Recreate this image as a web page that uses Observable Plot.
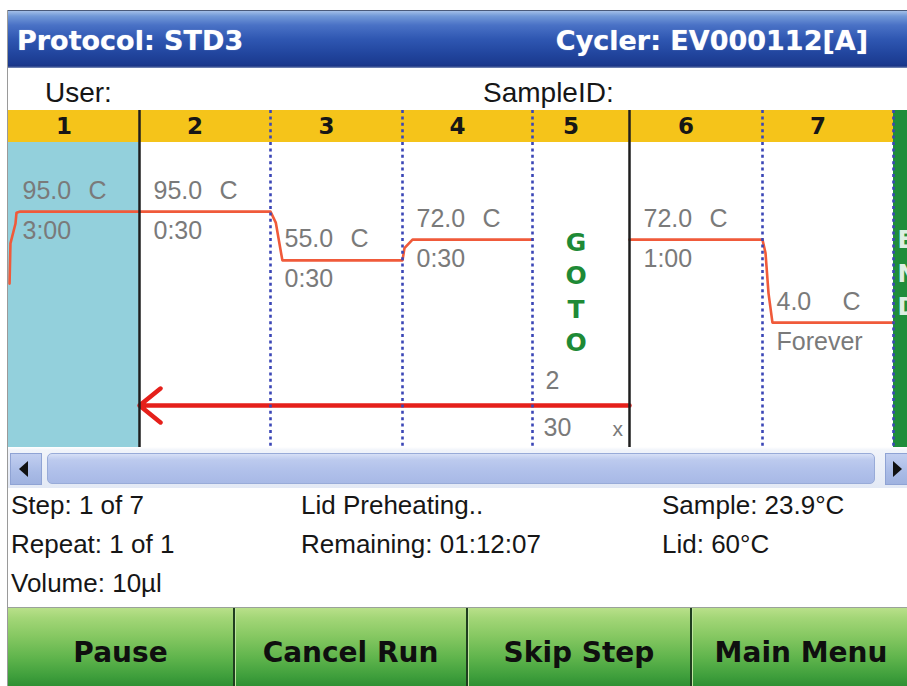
<!DOCTYPE html>
<html>
<head>
<meta charset="utf-8">
<script src="https://cdn.jsdelivr.net/npm/d3@7"></script>
<script src="https://cdn.jsdelivr.net/npm/@observablehq/plot@0.6"></script>
<style>
html, body { margin: 0; padding: 0; background: #fff; }
body { width: 907px; height: 686px; overflow: hidden; position: relative; font-family: "Liberation Sans", Arial, sans-serif; }
.box { position: absolute; box-sizing: border-box; }
.t { position: absolute; line-height: 0; white-space: pre; }
</style>
</head>
<body>
<div id="root"></div>
<script>
// ---------- data ----------
const titleLeft = "Protocol: STD3";
const titleRight = "Cycler: EV000112[A]";
const infoLabels = ["User:", "SampleID:"];
const steps = ["1", "2", "3", "4", "5", "6", "7"];
const stepTemp = [95.0, 95.0, 55.0, 72.0, null, 72.0, 4.0];
const stepHold = ["3:00", "0:30", "0:30", "0:30", null, "1:00", "Forever"];
const tempUnit = "C";
const currentStep = 1;
const gotoStep = 5, gotoTarget = 2, gotoCycles = 30;
const gotoWord = ["G", "O", "T", "O"];
const endWord = ["E", "N", "D"];
// block temperature trace: position along the steps (step units) and °C
const traceStep = [0.008, 0.015, 0.053, 0.061, 0.09, 2.0, 2.04, 2.09, 3.0, 3.015, 3.077, 4.0,
                   5.0, 6.0, 6.023, 6.046, 6.076, 7.0];
const traceTemp = [36, 69, 85, 94, 95, 95, 86, 55, 55, 65, 72, 72,
                   72, 72, 61, 28, 4, 4];
const traceSeg  = ["a","a","a","a","a","a","a","a","a","a","a","a",
                   "b","b","b","b","b","b"];
const statusCol1 = ["Step: 1 of 7", "Repeat: 1 of 1", "Volume: 10µl"];
const statusCol2 = ["Lid Preheating..", "Remaining: 01:12:07"];
const statusCol3 = ["Sample: 23.9°C", "Lid: 60°C"];
const buttons = ["Pause", "Cancel Run", "Skip Step", "Main Menu"];

// ---------- layout ----------
const colWidths = [131, 131, 132, 130, 97, 133, 131, 131];
const chartW = 899, chartH = 337, headerH = 32;
const yDomain = [0, 100], yRange = [217, 95];
const LS = '"Liberation Sans", Arial, sans-serif';
const DJ = '"DejaVu Sans", Verdana, sans-serif';

const root = document.getElementById("root");
function box(css) { const d = document.createElement("div"); d.className = "box"; d.style.cssText = css; root.appendChild(d); return d; }
function txt(s, x, base, size, opts = {}) {
  const d = document.createElement("div");
  d.className = "t";
  d.textContent = s;
  const fam = opts.family || LS;
  d.style.cssText = `font-family:${fam};font-size:${size}px;font-weight:${opts.weight || "normal"};color:${opts.color || "#161616"};top:${base - 0.346 * size}px;` +
    (opts.anchor === "end" ? `right:${907 - x}px;` : opts.anchor === "middle" ? `left:${x}px;transform:translateX(-50%);` : `left:${x}px;`) + (opts.extra || "");
  root.appendChild(d);
  return d;
}

// bezel line
box("left:7px;top:10px;width:1px;height:676px;background:#9a9a9a;");
// title bar
box("left:8px;top:10px;width:899px;height:58px;border-top:1px solid #4a5a7a;background:linear-gradient(180deg,#a3bfe8 0px,#7299d8 5px,#4a72c6 14px,#2f57b2 28px,#22469f 42px,#1b3a8f 53px,#1a3486 55px,#8596bc 57px,#d4dae6 58px);");
txt(titleLeft, 17, 50, 27, {family: DJ, weight: "bold", color: "#ffffff", extra: "text-shadow:0 0 1px rgba(255,255,255,0.6);"});
txt(titleRight, 868, 50, 27, {family: DJ, weight: "bold", color: "#ffffff", anchor: "end", extra: "text-shadow:0 0 1px rgba(255,255,255,0.6);"});
// user row
txt(infoLabels[0], 45, 103, 28);
txt(infoLabels[1], 483, 103, 28);
// step header band
box(`left:8px;top:110px;width:899px;height:${headerH}px;background:#f5c41a;`);

// ---------- chart ----------
const xRange = [0];
colWidths.forEach(w => xRange.push(xRange[xRange.length - 1] + w));
const rows = steps.map((s, i) => ({step: i + 1, label: s, temp: stepTemp[i], hold: stepHold[i]}));
const held = rows.filter(d => d.temp != null);
const trace = traceStep.map((s, i) => ({s, t: traceTemp[i], seg: traceSeg[i]}));
const solidSeps = [gotoTarget - 1, gotoStep];
const dottedSeps = d3.range(1, steps.length + 1).filter(k => !solidSeps.includes(k));
const laneY = d3.scaleLinear().domain(yDomain).range(yRange).invert(chartH - 42);
const grey = "#7a7a7a";
const lbl = {fill: grey, fontSize: 25, fontFamily: LS, textAnchor: "start", lineAnchor: "bottom"};

const marks = [
  Plot.rect([currentStep], {x1: d => d - 1, x2: d => d, fill: "#93d0dc"}),
  Plot.rect([steps.length], {x1: d => d, x2: d => d + 1, fill: "#1f8d3b", insetTop: -headerH}),
  Plot.line(trace, {x: "s", y: "t", z: "seg", stroke: "#f05a3a", strokeWidth: 2.6}),
  Plot.arrow([{from: gotoStep, to: gotoTarget}], {x1: d => d.from, x2: d => d.to - 1, y1: () => laneY, y2: () => laneY,
    stroke: "#e5201b", strokeWidth: 4.5, headLength: 9, headAngle: 78}),
  Plot.ruleX(dottedSeps, {stroke: "#3b46b6", strokeWidth: 2.6, strokeDasharray: "3,3.4", insetTop: -headerH}),
  Plot.ruleX(solidSeps, {stroke: "#1e1e1e", strokeWidth: 2.5, insetTop: -headerH}),
  Plot.text(rows, {x: d => d.step - 0.5, text: "label", frameAnchor: "top", dy: -16, dx: -10, lineAnchor: "middle",
    fontWeight: "bold", fontSize: 23, fontFamily: DJ, fill: "#161616"}),
  Plot.text(held, {x: d => d.step - 1, y: "temp", text: d => d.temp.toFixed(1), dx: 14, dy: -13, ...lbl}),
  Plot.text(held, {x: d => d.step - 1, y: "temp", text: () => tempUnit, dx: 80, dy: -13, ...lbl}),
  Plot.text(held, {x: d => d.step - 1, y: "temp", text: "hold", dx: 14, dy: 27, ...lbl}),
  ...gotoWord.map((ch, i) => Plot.text([ch], {x: gotoStep - 0.5, text: d => d, frameAnchor: "top", dy: 100 + i * 33.5, dx: -5,
    lineAnchor: "middle", fill: "#1e8a36", fontWeight: "bold", fontSize: 25, fontFamily: DJ})),
  Plot.text([gotoTarget], {x: gotoStep - 1, text: d => String(d), frameAnchor: "bottom", dx: 13, dy: -59, ...lbl}),
  Plot.text([gotoCycles], {x: gotoStep - 1, text: d => String(d), frameAnchor: "bottom", dx: 11, dy: -12, ...lbl}),
  Plot.text(["x"], {x: gotoStep, text: d => d, frameAnchor: "bottom", dx: -17, dy: -12, ...lbl, fontSize: 21}),
  ...endWord.map((ch, i) => Plot.text([ch], {x: steps.length, text: d => d, frameAnchor: "top", dy: 98 + i * 33.5, dx: 4,
    textAnchor: "start", lineAnchor: "middle", fill: "#dcefe2", fontWeight: "bold", fontSize: 24, fontFamily: DJ}))
];

const chart = Plot.plot({
  width: chartW, height: chartH,
  marginTop: headerH, marginBottom: 0, marginLeft: 0, marginRight: 0,
  x: {type: "linear", domain: d3.range(0, colWidths.length + 1), range: xRange, axis: null},
  y: {type: "linear", domain: yDomain, range: yRange, axis: null},
  style: {background: "transparent", overflow: "hidden"},
  marks
});
const holder = box("left:8px;top:110px;width:899px;height:337px;");
holder.appendChild(chart);

// ---------- scrollbar ----------
box("left:8px;top:447px;width:899px;height:41px;background:linear-gradient(180deg,#ffffff 0px,#f1f4fa 3px,#e3e9f5 100%);");
box("left:10px;top:453px;width:32px;height:32px;background:linear-gradient(180deg,#c2cff0,#a9bbe6 60%,#9fb2e0);border:1px solid #8fa3d4;");
box("left:885px;top:453px;width:26px;height:32px;background:linear-gradient(180deg,#c2cff0,#a9bbe6 60%,#9fb2e0);border:1px solid #8fa3d4;");
box("left:47px;top:453px;width:828px;height:31px;border-radius:5px;background:linear-gradient(180deg,#d7e0f6 0px,#bccaee 6px,#b0c0ea 60%,#a8b9e6 100%);border:1px solid #98abd8;");
box("left:19px;top:461px;width:0;height:0;border-top:8px solid transparent;border-bottom:8px solid transparent;border-right:9px solid #111;");
box("left:893px;top:461px;width:0;height:0;border-top:8px solid transparent;border-bottom:8px solid transparent;border-left:9px solid #111;");

// ---------- status ----------
const bases = [514, 553, 592];
statusCol1.forEach((s, i) => txt(s, 11, bases[i], 26));
statusCol2.forEach((s, i) => txt(s, 301, bases[i], 26));
statusCol3.forEach((s, i) => txt(s, 662, bases[i], 26));

// ---------- buttons ----------
const btnX = [8, 233, 466, 690, 910];
box("left:8px;top:607px;width:899px;height:1px;background:#9aa29a;");
buttons.forEach((b, i) => {
  const w = btnX[i + 1] - btnX[i];
  box(`left:${btnX[i]}px;top:608px;width:${w}px;height:78px;background:linear-gradient(180deg,#b9e08a 0px,#a3d677 10px,#86c862 28px,#5fb44c 50px,#3f9f3c 68px,#2f8f33 78px);` +
      (i > 0 ? "border-left:2px solid #1f3d1f;box-shadow:inset 1px 0 0 #bfe6a0;" : ""));
  txt(b, btnX[i] + w / 2 + (i === 0 ? 0 : 1), 663, 28, {family: DJ, weight: "bold", color: "#0f0f0f", anchor: "middle"});
});
</script>
</body>
</html>
